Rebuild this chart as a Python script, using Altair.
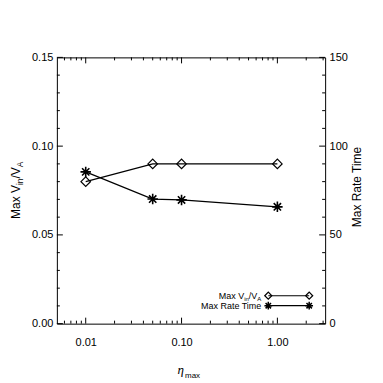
import altair as alt
import pandas as pd

# ---- data ----
eta = [0.01, 0.05, 0.1, 1.0]
max_vin = [0.080, 0.090, 0.090, 0.090]
max_rate_time = [85.5, 70.2, 69.7, 65.8]

x_labels = [0.01, 0.1, 1.0]
x_minor = [0.006, 0.007, 0.008, 0.009,
           0.02, 0.03, 0.04, 0.05, 0.06, 0.07, 0.08, 0.09,
           0.2, 0.3, 0.4, 0.5, 0.6, 0.7, 0.8, 0.9, 2.0, 3.0]
left_major = [0.0, 0.05, 0.10, 0.15]
left_minor = [0.01, 0.02, 0.03, 0.04, 0.06, 0.07, 0.08, 0.09, 0.11, 0.12, 0.13, 0.14]
right_major = [0, 50, 100, 150]
right_minor = [10, 20, 30, 40, 60, 70, 80, 90, 110, 120, 130, 140]

W, H = 269, 267
FONT = "Liberation Sans"
MAJ, MIN = 6, 3

df = pd.DataFrame({"eta": eta, "v": max_vin, "r": max_rate_time})
one = pd.DataFrame({"k": [0]})

xenc = alt.X("eta:Q",
             scale=alt.Scale(type="log", domain=[0.005, 3.15]),
             axis=alt.Axis(values=x_labels, format=".2f", ticks=False, domain=False,
                           grid=False, labelPadding=13, title=None, labelFontSize=11,
                           labelFont=FONT, labelColor="black"))
yl = alt.Y("v:Q", scale=alt.Scale(domain=[0, 0.15]),
           axis=alt.Axis(orient="left", values=left_major, format=".2f", ticks=False,
                         domain=False, grid=False, labelPadding=4, title=None,
                         labelFontSize=11, labelFont=FONT, labelColor="black"))
yr = alt.Y("r:Q", scale=alt.Scale(domain=[0, 150]),
           axis=alt.Axis(orient="right", values=right_major, format="d", ticks=False,
                         domain=False, grid=False, labelPadding=4, title=None,
                         labelFontSize=11, labelFont=FONT, labelColor="black"))


def xticks(vals, L):
    d = pd.DataFrame({"eta": vals})
    b = alt.Chart(d).mark_rule(color="black", strokeWidth=1).encode(
        x=xenc, y=alt.value(H), y2=alt.value(H - L))
    t = alt.Chart(d).mark_rule(color="black", strokeWidth=1).encode(
        x=xenc, y=alt.value(0), y2=alt.value(L))
    return [b, t]


def lticks(vals, L):
    d = pd.DataFrame({"v": vals})
    return alt.Chart(d).mark_rule(color="black", strokeWidth=1).encode(
        y=yl, x=alt.value(0), x2=alt.value(L))


def rticks(vals, L):
    d = pd.DataFrame({"r": vals})
    return alt.Chart(d).mark_rule(color="black", strokeWidth=1).encode(
        y=yr, x=alt.value(W), x2=alt.value(W - L))


STAR = "M0,-1L0,1M-1,0L1,0M-0.7,-0.7L0.7,0.7M-0.7,0.7L0.7,-0.7"

base = alt.Chart(df)
vin_line = base.mark_line(color="black", strokeWidth=1.2).encode(x=xenc, y=yl)
vin_pts = base.mark_point(shape="diamond", filled=False, size=90, color="black",
                          strokeWidth=1.2, opacity=1).encode(x=xenc, y=yl)
rt_line = base.mark_line(color="black", strokeWidth=1.2).encode(x=xenc, y=yr)
rt_pts = base.mark_point(shape=STAR, filled=False, size=110, color="black",
                         strokeWidth=1.6, opacity=1).encode(x=xenc, y=yr)

left = alt.layer(*xticks(x_minor, MIN), *xticks(x_labels, MAJ),
                 lticks(left_minor, MIN), lticks(left_major, MAJ),
                 vin_line, vin_pts)
right = alt.layer(rticks(right_minor, MIN), rticks(right_major, MAJ), rt_line, rt_pts)


def txt(s, x, y, size, angle=0, align="left", font=FONT, style="normal"):
    return alt.Chart(one).mark_text(text=s, fontSize=size, font=font, align=align,
                                    baseline="alphabetic", angle=angle, color="black",
                                    fontStyle=style).encode(x=alt.value(x), y=alt.value(y))


extras = [
    # left axis title: Max V_in/V_A
    txt("Max V", -37, 162, 12, angle=270),
    txt("in", -33.5, 128, 8.5, angle=270),
    txt("/V", -37, 121.4, 12, angle=270),
    txt("A", -33.5, 110.1, 8.5, angle=270),
    # right axis title
    txt("Max Rate Time", 305, 130, 12, angle=270, align="center"),
    # x axis title: eta_max
    txt("η", 121, 317, 13, font="Liberation Serif", style="italic"),
    txt("max", 128.5, 321, 8),
    # legend
    txt("Max V", 187.8, 242, 9, align="right"),
    txt("in", 192.5, 244, 6, align="right"),
    txt("/V", 201, 242, 9, align="right"),
    txt("A", 205, 244, 6, align="right"),
    txt("Max Rate Time", 205, 252, 9, align="right"),
    alt.Chart(one).mark_rule(color="black", strokeWidth=1.2).encode(
        x=alt.value(212), x2=alt.value(253), y=alt.value(239)),
    alt.Chart(one).mark_rule(color="black", strokeWidth=1.2).encode(
        x=alt.value(212), x2=alt.value(253), y=alt.value(249)),
    alt.Chart(pd.DataFrame({"px": [212, 253]})).mark_point(
        shape="diamond", filled=False, size=50, color="black", strokeWidth=1.2, opacity=1
    ).encode(x=alt.X("px:Q", scale=None), y=alt.value(239)),
    alt.Chart(pd.DataFrame({"px": [212, 253]})).mark_point(
        shape=STAR, filled=False, size=60, color="black", strokeWidth=1.5, opacity=1
    ).encode(x=alt.X("px:Q", scale=None), y=alt.value(249)),
]

chart = alt.layer(left, right, *extras).resolve_scale(y="independent").properties(
    width=W, height=H,
    padding={"left": 49, "top": 49, "right": 50, "bottom": 59},
    autosize="none",
    background="white",
).configure_view(stroke="black", strokeWidth=1)

chart.save("out.html", embed_options={"renderer": "svg", "actions": False})
